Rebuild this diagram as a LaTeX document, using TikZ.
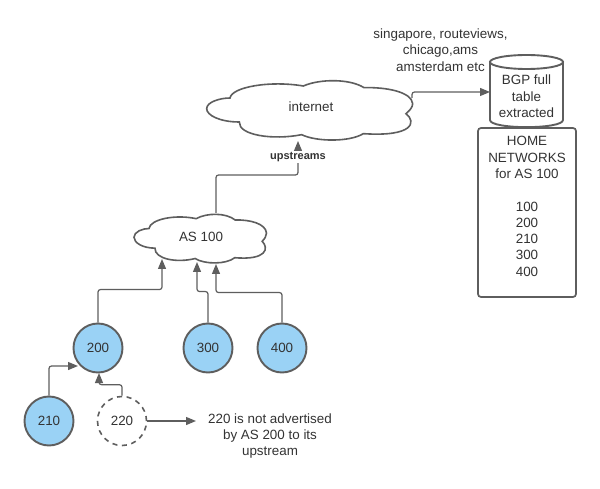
\documentclass[tikz,border=0pt]{standalone}
\usepackage{fontspec}
\setmainfont{Liberation Sans}
\usepackage{xcolor}
\usetikzlibrary{arrows.meta,positioning,calc}
\definecolor{linegray}{HTML}{5E5E5E}
\definecolor{textgray}{HTML}{333333}
\definecolor{asblue}{HTML}{9AD2F5}
\newcommand{\cloudoutline}{(90,78) .. controls (95,45) and (210,25) .. (310,42)
  .. controls (360,20) and (450,20) .. (492,47)
  .. controls (560,45) and (635,60) .. (638,95)
  .. controls (638,105) and (630,115) .. (618,125)
  .. controls (650,150) and (640,195) .. (490,185)
  .. controls (450,210) and (350,210) .. (305,188)
  .. controls (220,205) and (115,190) .. (118,150)
  .. controls (60,150) and (20,130) .. (20,110)
  .. controls (20,90) and (60,78) .. (90,78) -- cycle}

\begin{document}
\begin{tikzpicture}[
  x=1pt, y=-1pt,
  every node/.style={text=textgray, font=\fontsize{13.4}{16.3}\selectfont},
  asnode/.style={circle, draw=linegray, line width=1.9pt, fill=asblue, minimum size=49pt, inner sep=0pt},
  hidden/.style={circle, draw=linegray, line width=1.6pt, dash pattern=on 5pt off 4.6pt, minimum size=49pt, inner sep=0pt},
  cloudline/.style={draw=linegray, line width=1.6pt, fill=white},
  arrow/.style={-{Triangle[length=10pt, width=8pt]}, draw=linegray, line width=1.2pt, rounded corners=2.5pt}
]
\useasboundingbox (0,0) rectangle (600,489);
\fill[white] (0,0) rectangle (600,489);

% clouds
\draw[cloudline, shift={(200,72)}, xscale=1/3, yscale=1/3] \cloudoutline;
\draw[cloudline, shift={(129.7,207.2)}, xscale=0.2144, yscale=0.273] \cloudoutline;
\node (internet) at (311,107) {internet};
\node (as100) at (201,237) {AS 100};

% database
\draw[draw=linegray, line width=1.9pt, fill=white] (490,62) -- (490,120)
  .. controls (490,129.5) and (563,129.5) .. (563,120) -- (563,62) -- cycle;
\draw[draw=linegray, line width=1.9pt, fill=white] (526.5,62) ellipse[x radius=36.5, y radius=7];
\node[align=center] (bgp) at (526.5,96.5) {BGP full\\table\\extracted};
\node[draw=linegray, line width=1.7pt, rounded corners=3pt, minimum width=98pt, minimum height=169pt, fill=white] (home) at (527,212.5) {};
\node[align=center, anchor=north] (hometext) at (527,133) {HOME\\NETWORKS\\for AS 100\\[16.3pt]100\\200\\210\\300\\400};
\node[align=center] (sites) at (440.5,50) {singapore, routeviews,\\chicago,ams\\amsterdam etc};

\node[asnode] (n200) at (98,348) {200};
\node[asnode] (n300) at (208,348) {300};
\node[asnode] (n400) at (282,348) {400};
\node[asnode] (n210) at (49,421) {210};
\node[hidden] (n220) at (122,421) {220};
\node[align=center] (note) at (270,436) {220 is not advertised\\by AS 200 to its\\upstream};

\coordinate (inetout) at (412,98);
\coordinate (bgpin) at (490,92);
\coordinate (inetin) at (298,141);
\coordinate (asout) at (216,213);
\coordinate (as200) at (162,259);
\coordinate (as300) at (197,262);
\coordinate (as400) at (216,264);
\coordinate (in210) at (78,366);
\coordinate (in220) at (99,373);
\coordinate (notein) at (196,421);

\draw[arrow] (inetout) |- (bgpin);
\draw[arrow] (asout) -- ++(0,-38) -| (inetin);
\node[fill=white, inner sep=1pt, font=\fontsize{11}{13}\selectfont\bfseries] (upstreams) at (298,157) {upstreams};
\draw[arrow] (n200.north) -- ++(0,-33) -| (as200);
\draw[arrow] (n300.north) -- ++(0,-31) -| (as300);
\draw[arrow] (n400.north) -- ++(0,-30) -| (as400);
\draw[arrow] (n210.north) |- (in210);
\draw[arrow] (n220.north) -- ++(0,-11) -| (in220);
\draw[arrow] (n220.east) -- (notein);
\end{tikzpicture}
\end{document}
